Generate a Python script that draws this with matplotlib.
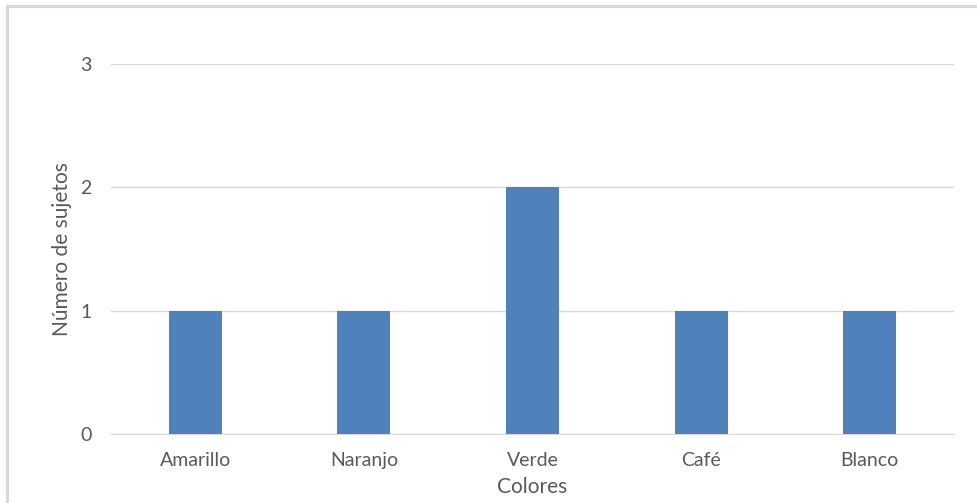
import matplotlib
matplotlib.use("Agg")
import matplotlib.pyplot as plt
from matplotlib.patches import Rectangle

colores = ["Amarillo", "Naranjo", "Verde", "Café", "Blanco"]
sujetos = [1, 1, 2, 1, 1]
y_ticks = [0, 1, 2, 3]

plt.rcParams['font.family'] = ['Lato', 'DejaVu Sans']
texto = '#595959'
W, H = 977, 503

fig = plt.figure(figsize=(W / 100, H / 100), dpi=100)

# marco gris del gráfico
fig.patches.append(Rectangle((7 / W, -0.1), 1.1, 1 - 6 / H + 0.1,
                             transform=fig.transFigure, fill=False,
                             edgecolor='#d9d9d9', linewidth=2.2))

ax = fig.add_axes([111 / W, (H - 434) / H, (954 - 111) / W, (434 - 64) / H])
x = range(len(colores))
ax.bar(x, sujetos, width=0.315, color='#4f81bd', zorder=3)

ax.set_xlim(-0.5, len(colores) - 0.5)
ax.set_ylim(0, 3)
ax.set_yticks(y_ticks)
ax.set_xticks(list(x))
ax.set_xticklabels(colores)
ax.grid(axis='y', color='#d9d9d9', linewidth=1, zorder=0)
for s in ['top', 'right', 'left']:
    ax.spines[s].set_visible(False)
ax.spines['bottom'].set_color('#d9d9d9')
ax.tick_params(axis='both', length=0, colors=texto, labelsize=14)
ax.tick_params(axis='y', pad=14)
ax.tick_params(axis='x', pad=13)

ax.set_xlabel('Colores', color=texto, fontsize=15, labelpad=6)
ax.set_ylabel('Número de sujetos', color=texto, fontsize=15, labelpad=6)

fig.savefig('out.png', dpi=100)
